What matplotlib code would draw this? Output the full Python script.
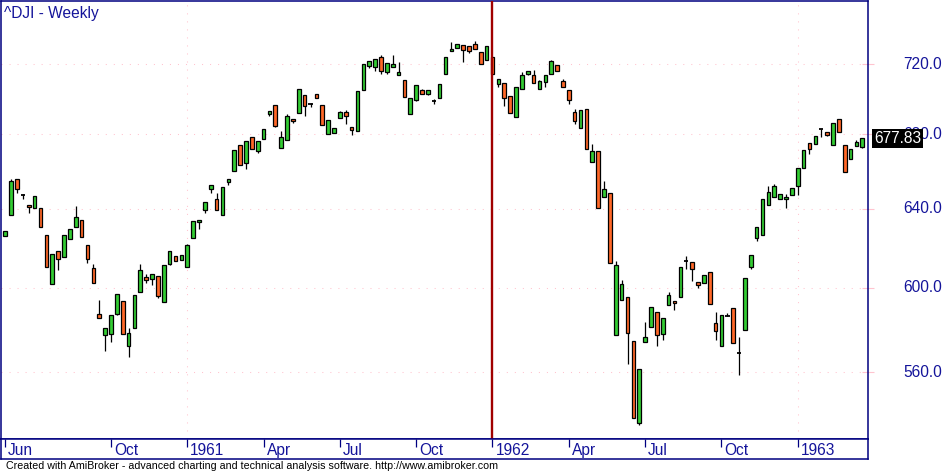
import matplotlib
matplotlib.use('Agg')
import matplotlib.pyplot as plt
import matplotlib.transforms as mtransforms
from matplotlib.ticker import NullLocator, NullFormatter
import numpy as np

plt.rcParams['font.family'] = ['Liberation Sans', 'DejaVu Sans']

# ---------------- data (weekly ^DJI, Jun 1960 - Mar 1963) ----------------
opens = [625.6, 636.9, 655.9, 647.4, 642.1, 640.5, 640.5, 626.1, 601.6, 618.0,
         615.0, 624.1, 630.7, 634.3, 621.1, 609.5, 587.1, 577.0, 577.9, 587.4,
         593.4, 571.9, 580.3, 597.7, 605.2, 604.3, 605.5, 593.2, 611.8, 615.5,
         613.5, 610.3, 624.6, 633.2, 639.3, 650.5, 645.3, 636.7, 653.8, 659.9,
         674.3, 664.2, 678.7, 671.0, 677.6, 691.6, 696.6, 672.7, 677.1, 688.8,
         692.2, 702.4, 697.3, 703.0, 696.6, 680.4, 680.9, 689.3, 692.8, 684.2,
         682.0, 705.3, 719.2, 718.6, 724.5, 715.7, 718.6, 713.9, 711.1, 691.6,
         699.5, 705.3, 703.0, 699.0, 700.6, 714.6, 728.1, 729.9, 731.6, 731.1,
         732.2, 727.5, 722.8, 724.5, 708.8, 709.4, 701.8, 689.9, 705.9, 714.6,
         713.9, 705.9, 710.0, 714.6, 719.8, 710.5, 705.3, 692.8, 683.7, 694.5,
         665.0, 671.0, 646.2, 648.4, 577.2, 593.9, 595.3, 574.4, 537.3, 574.0,
         581.0, 588.1, 577.7, 591.5, 593.4, 595.3, 613.4, 612.5, 602.6, 602.1,
         607.6, 582.8, 572.1, 586.4, 590.0, 569.2, 579.6, 610.3, 624.6, 626.1,
         642.1, 646.2, 644.8, 645.3, 647.4, 652.1, 661.7, 675.4, 674.8, 683.0,
         681.5, 674.3, 688.8, 674.3, 666.6, 673.7, 673.2]
highs = [628.6, 655.9, 655.9, 647.5, 642.1, 646.8, 640.5, 626.1, 616.5, 618.0,
         626.1, 629.2, 641.2, 634.3, 621.1, 611.5, 593.9, 580.5, 586.6, 596.7,
         593.4, 580.5, 596.3, 611.6, 606.5, 606.5, 605.5, 611.0, 618.0, 615.5,
         616.0, 622.0, 633.8, 634.3, 643.7, 652.7, 648.4, 651.6, 655.4, 671.6,
         674.3, 676.5, 678.7, 676.5, 683.2, 693.3, 696.6, 682.0, 691.6, 688.8,
         705.9, 702.4, 697.4, 703.0, 696.6, 688.2, 683.7, 693.3, 693.9, 684.2,
         704.7, 720.4, 722.2, 723.4, 725.7, 721.0, 725.7, 721.6, 711.1, 700.6,
         708.2, 705.9, 705.3, 700.1, 708.8, 724.5, 733.4, 732.2, 731.6, 731.1,
         734.0, 727.5, 731.1, 724.5, 711.7, 709.4, 701.8, 706.6, 715.7, 716.3,
         716.9, 711.1, 713.9, 722.8, 719.8, 711.7, 705.3, 694.5, 693.9, 694.5,
         674.8, 671.0, 654.8, 648.4, 613.0, 603.6, 595.3, 574.4, 561.4, 583.3,
         590.5, 588.1, 585.2, 597.7, 593.4, 610.0, 615.5, 612.5, 602.6, 606.0,
         607.6, 588.1, 586.6, 587.6, 590.0, 576.3, 604.5, 616.0, 630.7, 644.8,
         652.1, 653.2, 647.9, 647.9, 651.0, 661.7, 671.6, 675.4, 679.2, 683.0,
         681.5, 686.3, 688.8, 674.3, 672.1, 677.1, 677.83]
lows = [625.6, 636.9, 648.2, 645.3, 637.9, 640.5, 630.2, 610.0, 601.6, 608.9,
        615.0, 624.1, 630.7, 625.1, 612.0, 602.1, 585.2, 569.5, 573.8, 586.5,
        577.7, 566.8, 580.3, 597.7, 602.4, 601.3, 595.1, 593.2, 611.1, 613.0,
        613.5, 610.3, 624.6, 629.2, 637.7, 648.4, 639.3, 636.7, 652.5, 659.9,
        663.2, 661.0, 672.1, 669.9, 677.6, 690.5, 684.2, 672.7, 677.1, 686.5,
        692.2, 690.3, 695.3, 700.6, 685.4, 680.4, 680.9, 689.3, 686.0, 679.8,
        682.0, 705.3, 718.1, 716.3, 714.6, 714.6, 718.6, 713.9, 701.3, 691.6,
        698.9, 703.0, 702.4, 697.2, 700.6, 714.6, 728.1, 729.9, 721.6, 726.9,
        729.3, 720.4, 722.8, 714.6, 706.6, 696.1, 692.2, 689.9, 705.9, 713.9,
        709.4, 705.9, 707.1, 714.6, 716.3, 706.6, 697.2, 686.0, 683.7, 672.1,
        665.0, 640.5, 646.2, 612.0, 577.2, 593.9, 563.5, 539.5, 536.3, 574.0,
        581.0, 571.9, 574.9, 591.5, 589.1, 595.3, 609.0, 603.1, 599.6, 602.1,
        592.0, 574.9, 572.1, 586.1, 573.5, 558.7, 579.6, 609.3, 623.3, 626.1,
        642.1, 646.2, 644.8, 640.5, 647.4, 647.4, 661.7, 669.4, 674.8, 678.7,
        679.2, 674.3, 681.5, 659.6, 666.6, 673.7, 672.7]
closes = [628.6, 654.8, 650.3, 647.2, 641.1, 646.8, 630.2, 610.0, 616.5, 614.3,
          626.1, 629.2, 635.8, 625.1, 614.0, 602.1, 585.2, 580.5, 586.6, 596.7,
          577.7, 578.3, 596.3, 608.6, 603.7, 606.5, 596.1, 611.0, 618.0, 613.0,
          616.0, 621.5, 633.8, 634.3, 643.7, 652.7, 639.3, 651.6, 655.4, 671.6,
          663.2, 676.5, 672.1, 676.5, 683.2, 693.3, 684.8, 678.7, 690.5, 687.6,
          705.9, 696.1, 697.1, 700.6, 685.4, 688.2, 683.7, 692.8, 690.5, 682.6,
          704.7, 720.4, 722.2, 723.4, 716.3, 721.0, 720.4, 715.7, 701.3, 700.6,
          708.2, 703.0, 705.3, 698.8, 708.8, 724.5, 729.3, 732.2, 728.7, 728.1,
          729.3, 720.4, 731.1, 714.6, 711.7, 700.6, 692.2, 706.6, 713.9, 716.3,
          709.4, 710.5, 713.9, 722.2, 716.3, 706.6, 699.5, 687.6, 693.9, 672.1,
          671.0, 640.5, 650.5, 612.0, 611.0, 601.6, 578.1, 539.5, 561.4, 576.3,
          590.5, 577.2, 585.2, 596.3, 592.4, 610.0, 613.2, 609.0, 601.1, 606.0,
          592.0, 579.1, 586.6, 586.2, 573.5, 569.0, 604.5, 616.0, 630.7, 644.8,
          648.9, 652.1, 647.9, 646.2, 651.0, 661.7, 671.6, 672.1, 679.2, 682.8,
          679.8, 686.3, 681.5, 659.6, 672.1, 676.0, 677.83]

price_ticks = [560.0, 600.0, 640.0, 680.0, 720.0]
date_tick_idx = [0, 18, 31, 44, 57, 70, 83, 96, 109, 122, 135]
date_tick_lbl = ['Jun', 'Oct', '1961', 'Apr', 'Jul', 'Oct', '1962', 'Apr', 'Jul', 'Oct', '1963']
year_idx = [31, 83, 135]
selected_idx = 83
title = '^DJI - Weekly'
last_value = closes[-1]
footer = ('Created with AmiBroker - advanced charting and technical analysis software. '
          'http://www.amibroker.com')

# ---------------- styling ----------------
W, H = 945, 472
BLUE = '#000080'
LBLUE = '#14149A'
GREEN = '#33CC33'
ORANGE = '#FF6828'
PINK = '#FFC4CF'

fig = plt.figure(figsize=(W / 100, H / 100), dpi=100)
fig.patch.set_facecolor('white')


def px_rect(x0, y0, x1, y1):
    return [x0 / W, 1 - y1 / H, (x1 - x0) / W, (y1 - y0) / H]


ax = fig.add_axes(px_rect(1, 0.5, 868, 439))
ax2 = fig.add_axes(px_rect(1, 439, 868, 459))

O = np.array(opens)
Hh = np.array(highs)
L = np.array(lows)
C = np.array(closes)
n = len(O)
x = np.arange(n)

ax.set_yscale('log')
ax.set_ylim(530.2, 758.6)
ax.set_xlim(-0.73, 146.97)
ax.yaxis.set_minor_locator(NullLocator())
ax.yaxis.set_minor_formatter(NullFormatter())

# grid
for v in price_ticks:
    ax.axhline(v, color=PINK, lw=0.75, linestyle=(0, (1, 6.7)), zorder=0)
for v in year_idx:
    ax.axvline(v, color=PINK, lw=0.75, linestyle=(0, (1, 6.7)), zorder=0)

# candles
doji = np.abs(C - O) < 0.25
up = C > O
lo = np.minimum(O, C)
hi = np.maximum(O, C)
ax.vlines(x, L, Hh, color='black', lw=0.9, zorder=2)
nd = ~doji
cols = np.where(up, GREEN, ORANGE)
ax.bar(x[nd], (hi - lo)[nd], bottom=lo[nd], width=0.62, color=cols[nd],
       edgecolor='black', linewidth=0.9, zorder=3)
ax.hlines(C[doji], x[doji] - 0.38, x[doji] + 0.38, color='black', lw=1.3, zorder=3)

# selected bar line
ax.axvline(selected_idx, color='#A00000', lw=1.7, zorder=4)

# y ticks / labels
ax.set_yticks(price_ticks)
ax.yaxis.tick_right()
ax.tick_params(axis='y', direction='inout', length=9, color=PINK, width=0.8,
               labelright=False, labelleft=False)
ax.tick_params(axis='x', bottom=False, top=False, labelbottom=False)
ytrans = ax.get_yaxis_transform()
for v in price_ticks:
    ax.text((942 - 1) / 867, v, f'{v:.1f}', transform=ytrans, ha='right', va='center',
            color=LBLUE, fontsize=11.2, clip_on=False)

ax.text((874 - 1) / 867, last_value, f'{last_value:.2f}', transform=ytrans, ha='left',
        va='center', color='white', fontsize=11.2, clip_on=False, zorder=10,
        bbox=dict(boxstyle='square,pad=0.12', fc='black', ec='none'))

ax.text(3 / 867, 1 - 17.5 / 439, title, transform=ax.transAxes, va='baseline',
        ha='left', color=LBLUE, fontsize=11.2)

for s in ax.spines.values():
    s.set_color(BLUE)
    s.set_linewidth(1.1)

# date axis box
ax2.set_xlim(ax.get_xlim())
ax2.set_ylim(0, 1)
ax2.set_yticks([])
ax2.set_xticks(date_tick_idx)
ax2.tick_params(axis='x', top=True, bottom=False, direction='in', length=6,
                color=BLUE, width=0.9, labelbottom=False, labeltop=False)
for s in ax2.spines.values():
    s.set_color(BLUE)
    s.set_linewidth(1.1)
btrans = mtransforms.blended_transform_factory(ax2.transData, ax2.transAxes)
btrans = mtransforms.offset_copy(btrans, fig=fig, x=3.0, y=0, units='dots')
for i, lbl in zip(date_tick_idx, date_tick_lbl):
    ax2.text(i, 0.18, lbl, transform=btrans, ha='left', va='baseline',
             color=LBLUE, fontsize=11.2)

fig.text(6 / W, (H - 469.3) / H, footer, ha='left', va='baseline',
         color='black', fontsize=7.7)

fig.savefig('out.png', dpi=100, facecolor='white')
